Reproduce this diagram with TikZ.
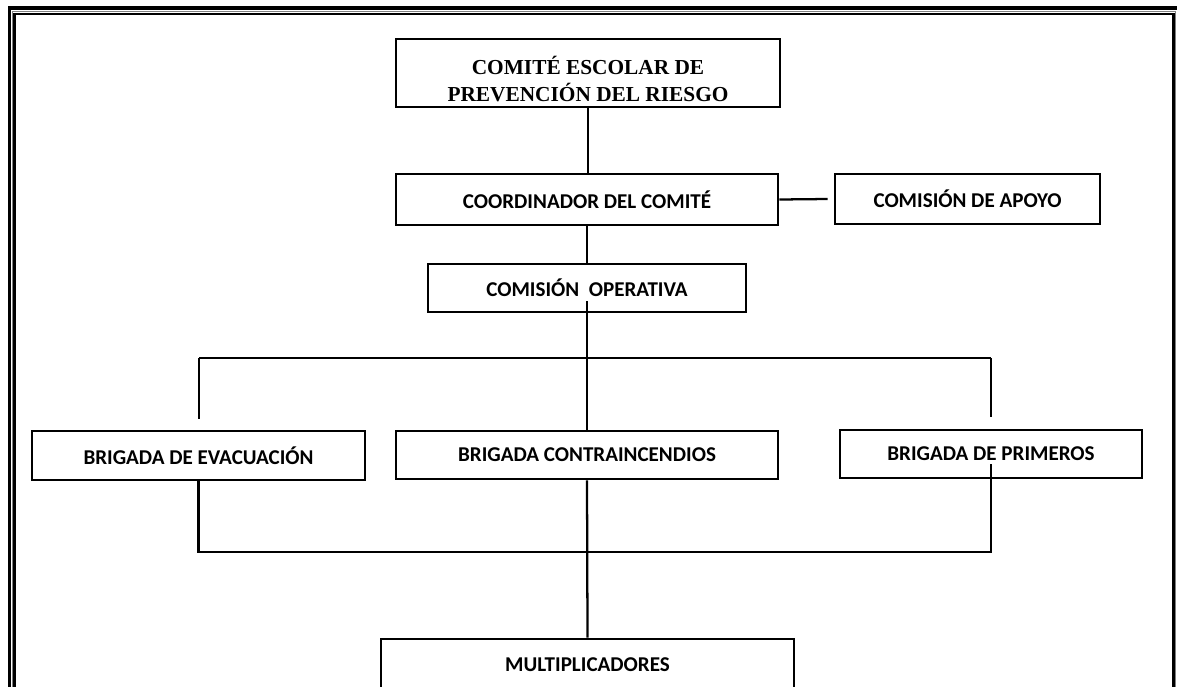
\documentclass[tikz,border=0pt]{standalone}
\usepackage{fontspec}
\newfontfamily\calib{Carlito}
\newfontfamily\timesf{Liberation Serif}
\usetikzlibrary{calc}
\newcommand\pxu{0.75pt}
\begin{document}
\begin{tikzpicture}[x=0.75pt,y=-0.75pt,
  box/.style={draw, line width=2.2pt, inner sep=0pt, font=\calib\bfseries\fontsize{15.8}{18}\selectfont},
  conn/.style={line width=1.7pt}]
\useasboundingbox (0,0) rectangle (1177,686);
\clip (0,0) rectangle (1177,686);
% page border
\draw[line width=2.3pt] (9.5,8) rectangle (1200,700);
\draw[gray, line width=0.8pt] (12.3,11.6) rectangle (1175.9,700);
\draw[line width=2.1pt] (14.7,14) rectangle (1173.5,700);
% boxes
\node[box, minimum width=384*\pxu, minimum height=68*\pxu] (top) at (588,73) {};
\node[font=\timesf\bfseries\fontsize{16}{20.3}\selectfont, align=center, inner sep=0pt] (toptext) at (588,79) {COMITÉ ESCOLAR DE\\PREVENCIÓN DEL RIESGO};
\node[box, minimum width=382*\pxu, minimum height=51*\pxu] (coord) at (587,199.5) {COORDINADOR DEL COMITÉ};
\node[box, minimum width=265*\pxu, minimum height=50*\pxu] (apoyo) at (967.5,199) {COMISIÓN DE APOYO};
\node[box, minimum width=318*\pxu, minimum height=48*\pxu] (oper) at (587,288) {COMISIÓN~\ OPERATIVA};
\node[box, minimum width=333*\pxu, minimum height=49*\pxu] (evac) at (198.5,455.5) {BRIGADA DE EVACUACIÓN};
\node[box, minimum width=382*\pxu, minimum height=48*\pxu] (contra) at (587,455) {BRIGADA CONTRAINCENDIOS};
\node[box, minimum width=302*\pxu, minimum height=48*\pxu] (prim) at (991,454) {BRIGADA DE PRIMEROS};
\node[box, minimum width=413*\pxu, minimum height=51*\pxu] (mult) at (587.5,664.5) {MULTIPLICADORES};
% connectors
\draw[conn] (top.south) -- (top.south |- coord.north);
\draw[conn] (coord.east) -- ($(apoyo.west)+(-6,0)$);
\draw[conn] (coord.south) -- (oper.north);
\coordinate (trunk) at ($(oper.center)+(0,13)$);
\draw[conn] (trunk) -- (contra.north);
\coordinate (busL) at (199,358);
\coordinate (busR) at (991,358);
\draw[conn] (busL) -- (busR);
\draw[conn] (busL) -- ($(busL)+(0,61)$);
\draw[conn] (busR) -- ($(busR)+(0,59)$);
\coordinate (lowbus) at (587,552);
\coordinate (primin) at ($(prim.center)+(0,10)$);
\draw[conn] (evac.south) |- (lowbus) -| (primin);
\draw[conn] (contra.south) -- (mult.north);
\end{tikzpicture}
\end{document}
